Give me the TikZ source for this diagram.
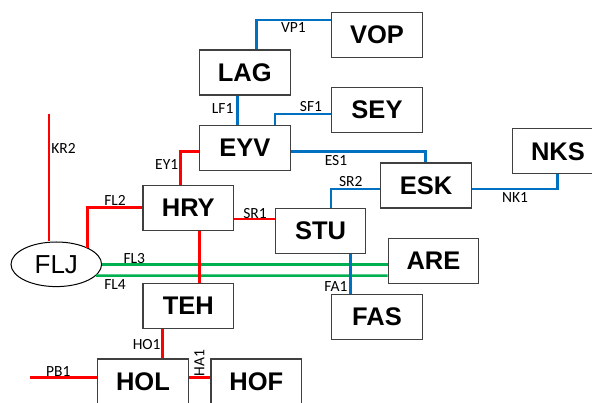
\documentclass[tikz,border=0pt]{standalone}
\usepackage{fontspec}
\usetikzlibrary{shapes.geometric}
\setmainfont{Liberation Sans}
\newfontfamily\lblfont{Carlito}
\definecolor{lred}{RGB}{255,0,0}
\definecolor{lblue}{RGB}{0,112,192}
\definecolor{lgreen}{RGB}{0,176,80}
\definecolor{bord}{RGB}{64,64,64}
\begin{document}
\begin{tikzpicture}[x=1pt,y=-1pt,
  box/.style={draw=bord,line width=1.2pt,fill=white,minimum width=90.6pt,minimum height=45pt,inner sep=0pt,font=\fontsize{25.5}{25.5}\selectfont\bfseries},
  lbl/.style={font=\lblfont\fontsize{15.5}{15.5}\selectfont,inner sep=0pt},
  rl/.style={draw=lred,line width=2.6pt},
  bl/.style={draw=lblue,line width=2.6pt},
  gl/.style={draw=lgreen,line width=2.6pt}]
\useasboundingbox (0,0) rectangle (592,403);
\clip (0,0) rectangle (592,403);
% coordinates
\coordinate (kr2top) at (49,114);
\coordinate (pb1end) at (30,377.7);
% nodes
\node[box] (VOP) at (377,34.8) {VOP};
\node[box] (LAG) at (244.8,72.5) {LAG};
\node[box] (SEY) at (377,110.2) {SEY};
\node[box] (EYV) at (244.8,147.8) {EYV};
\node[box] (ESK) at (426,185.5) {ESK};
\node[box] (NKS) at (558,151.3) {NKS};
\node[box] (HRY) at (188.3,207.8) {HRY};
\node[box] (STU) at (320.5,230.8) {STU};
\node[box] (ARE) at (433.5,260.8) {ARE};
\node[box] (FAS) at (377,316.8) {FAS};
\node[box] (TEH) at (188.3,305.8) {TEH};
\node[box] (HOL) at (143,381.5) {HOL};
\node[box] (HOF) at (256.3,381.5) {HOF};
\node[draw=black,line width=1pt,ellipse,minimum width=90.6pt,minimum height=44.6pt,inner sep=0pt,font=\fontsize{26}{26}\selectfont] (FLJ) at (56.3,264.3) {FLJ};
% connectors
\path[bl] (LAG.north -| 256.7,0) |- (VOP.west |- 0,20);
\path[bl] (LAG.south -| 237.3,0) -- (EYV.north -| 237.3,0);
\path[bl] (EYV.north -| 275,0) |- (SEY.west |- 0,114);
\path[bl] (EYV.east |- 0,151.7) -| (ESK.north -| 425.7,0);
\path[bl] (ESK.east |- 0,189) -| (NKS.south -| 557.7,0);
\path[bl] (ESK.west |- 0,189) -| (STU.north -| 331,0);
\path[gl] (FLJ.east |- 0,264.3) -- (ARE.west |- 0,264.3);
\path[gl] (FLJ.-16.3) -- (ARE.west |- 0,275.7);
\path[bl] (STU.south -| 350.7,0) -- (FAS.north -| 350.7,0);
\path[rl] (HRY.north -| 180.7,0) |- (EYV.west |- 0,151.7);
\path[rl] (FLJ.28.5) |- (HRY.west |- 0,207.7);
\path[rl] (HRY.east |- 0,219) -- (STU.west |- 0,219);
\path[rl] (kr2top) -- (FLJ.north -| 49,0);
\path[rl] (HRY.south -| 199.3,0) -- (TEH.north -| 199.3,0);
\path[rl] (TEH.south -| 162.3,0) -- (HOL.north -| 162.3,0);
\path[rl] (pb1end) -- (HOL.west |- 0,377.7);
\path[rl] (HOL.east |- 0,377.7) -- (HOF.west |- 0,377.7);
% redraw boxes on top of lines
\foreach \n in {VOP,LAG,SEY,EYV,ESK,NKS,HRY,STU,ARE,FAS,TEH,HOL,HOF}
  \node[box] at (\n) {\n};
% labels
\node[lbl] (lVP1) at (293.5,27.5) {VP1};
\node[lbl] (lLF1) at (222.7,109) {LF1};
\node[lbl] (lSF1) at (311,107) {SF1};
\node[lbl] (lES1) at (336,161) {ES1};
\node[lbl] (lNK1) at (515,198) {NK1};
\node[lbl] (lSR2) at (350.7,181.7) {SR2};
\node[lbl] (lFA1) at (336,286.7) {FA1};
\node[lbl] (lEY1) at (166.7,164.3) {EY1};
\node[lbl] (lFL2) at (115,200.7) {FL2};
\node[lbl] (lSR1) at (255,213.3) {SR1};
\node[lbl] (lKR2) at (63.5,148.5) {KR2};
\node[lbl] (lFL3) at (134.3,258.3) {FL3};
\node[lbl] (lFL4) at (115,285) {FL4};
\node[lbl] (lHO1) at (146.7,345) {HO1};
\node[lbl] (lPB1) at (58.3,371.7) {PB1};
\node[lbl,rotate=90] (lHA1) at (199.3,363.3) {HA1};
\end{tikzpicture}
\end{document}
